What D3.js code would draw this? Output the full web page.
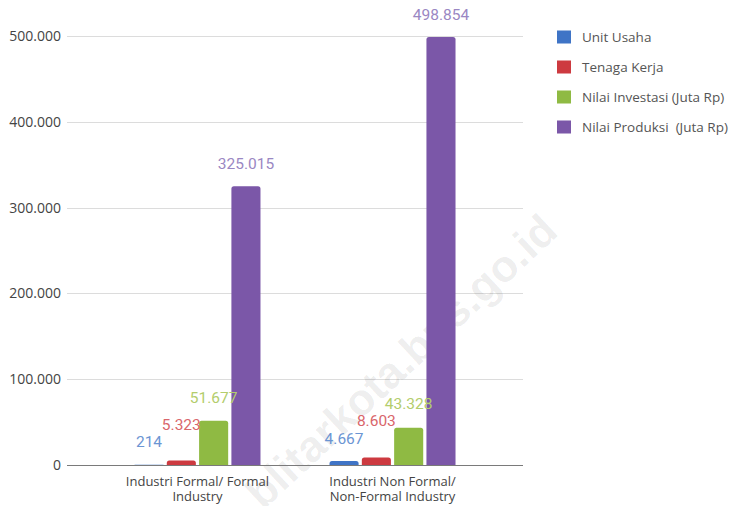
<!DOCTYPE html>
<html>
<head>
<meta charset="utf-8">
<script src="https://cdn.jsdelivr.net/npm/d3@7"></script>
<style>
  html, body { margin: 0; padding: 0; background: #fff; }
  svg { display: block; }
</style>
</head>
<body>
<svg id="chart" width="735" height="506"></svg>
<script>
// ---- data ----
const categories = ["Industri Formal/ Formal Industry", "Industri Non Formal/ Non-Formal Industry"];
const categoryLines = [["Industri Formal/ Formal", "Industry"], ["Industri Non Formal/", "Non-Formal Industry"]];
const seriesNames = ["Unit Usaha", "Tenaga Kerja", "Nilai Investasi (Juta Rp)", "Nilai Produksi  (Juta Rp)"];
const unitUsaha = [214, 4667];
const tenagaKerja = [5323, 8603];
const nilaiInvestasi = [51677, 43328];
const nilaiProduksi = [325015, 498854];
const yTicks = [0, 100000, 200000, 300000, 400000, 500000];
const seriesValues = [unitUsaha, tenagaKerja, nilaiInvestasi, nilaiProduksi];

// ---- styles ----
const barColors = ["#3f74c6", "#cd3a40", "#8fba43", "#7b57a8"];
const labelColors = ["#6b95d3", "#d9666b", "#b3cd6c", "#9a87c3"];

const svg = d3.select("#chart");
const plotLeft = 67, plotRight = 523, plotTop = 36, plotBottom = 465;

const locale = d3.formatLocale({ decimal: ",", thousands: ".", grouping: [3], currency: ["", ""] });
const fmt = locale.format(",");

const y = d3.scaleLinear().domain([0, 500000]).range([plotBottom, plotTop]);
const x0 = d3.scaleBand().domain(categories).range([plotLeft, plotRight]).paddingInner(0).paddingOuter(0.169);
const x1 = d3.scaleBand().domain(seriesNames)
  .range([x0.bandwidth() / 2 - 63, x0.bandwidth() / 2 + 63]).paddingInner(0.1);

// gridlines
svg.append("g").selectAll("line").data(yTicks.filter(d => d > 0)).join("line")
  .attr("x1", plotLeft).attr("x2", plotRight)
  .attr("y1", d => Math.round(y(d)) + 0.5).attr("y2", d => Math.round(y(d)) + 0.5)
  .attr("stroke", "#dcdcdc").attr("stroke-width", 1);

// y tick labels
svg.append("g").selectAll("text").data(yTicks).join("text")
  .attr("x", 61).attr("y", d => y(d)).attr("dy", "0.35em")
  .attr("text-anchor", "end")
  .style("font-family", "'Open Sans', sans-serif").style("font-size", "14px")
  .attr("fill", "#444").text(d => fmt(d));

// watermark
svg.append("text")
  .attr("transform", "translate(401,361) rotate(-43)")
  .attr("text-anchor", "middle").attr("dy", "0.35em")
  .style("font-family", "'Liberation Sans', Arial, sans-serif").style("font-weight", "bold")
  .style("font-size", "44px")
  .attr("fill", "#000").attr("fill-opacity", 0.075)
  .text("blitarkota.bps.go.id");

// bars
function barPath(x, yTop, w, h, r) {
  r = Math.min(r, h, w / 2);
  const yb = yTop + h;
  return `M${x},${yb}V${yTop + r}Q${x},${yTop} ${x + r},${yTop}H${x + w - r}Q${x + w},${yTop} ${x + w},${yTop + r}V${yb}Z`;
}

const groups = svg.append("g").selectAll("g").data(categories).join("g")
  .attr("transform", d => `translate(${x0(d)},0)`);

const cells = (d, ci) => seriesNames.map((s, si) => ({ s, si, v: seriesValues[si][ci] }));

groups.each(function (cat, ci) {
  const g = d3.select(this);
  const data = cells(cat, ci);
  g.selectAll("path").data(data).join("path")
    .attr("d", d => barPath(x1(d.s), y(d.v), x1.bandwidth(), plotBottom - y(d.v), 2.5))
    .attr("fill", d => barColors[d.si]);

  // label positions: avoid stacking overlap
  let prev = Infinity;
  data.forEach(d => {
    const natural = y(d.v) - 23;
    d.ly = Math.min(natural, prev - 17.5);
    prev = d.ly;
  });
  g.selectAll("text.val").data(data).join("text").attr("class", "val")
    .attr("x", d => x1(d.s) + x1.bandwidth() / 2)
    .attr("y", d => d.ly).attr("dy", "0.36em")
    .attr("text-anchor", "middle")
    .style("font-family", "Roboto, sans-serif").style("font-size", "15.5px")
    .attr("fill", d => labelColors[d.si])
    .text(d => fmt(d.v));
});

// baseline
svg.append("line").attr("x1", plotLeft).attr("x2", plotRight)
  .attr("y1", plotBottom + 0.5).attr("y2", plotBottom + 0.5)
  .attr("stroke", "#7a7a7a").attr("stroke-width", 1);

// x category labels (two lines each)
const xl = svg.append("g");
categories.forEach((d, i) => {
  categoryLines[i].forEach((t, j) => {
    xl.append("text")
      .attr("x", x0(d) + x0.bandwidth() / 2)
      .attr("y", 486 + j * 15)
      .attr("text-anchor", "middle")
      .style("font-family", "'Open Sans', sans-serif").style("font-size", "13px")
      .attr("fill", "#444").text(t);
  });
});

// legend
const legend = svg.append("g").attr("transform", "translate(557,37)");
const li = legend.selectAll("g").data(seriesNames).join("g")
  .attr("transform", (d, i) => `translate(0,${i * 30})`);
li.append("rect").attr("x", 0).attr("y", -6.5).attr("width", 14).attr("height", 13)
  .attr("fill", (d, i) => barColors[i]);
li.append("text").attr("x", 25).attr("y", 0).attr("dy", "0.35em")
  .style("font-family", "'Open Sans', sans-serif").style("font-size", "13.5px")
  .style("white-space", "pre")
  .attr("fill", "#555").text(d => d);
</script>
</body>
</html>
